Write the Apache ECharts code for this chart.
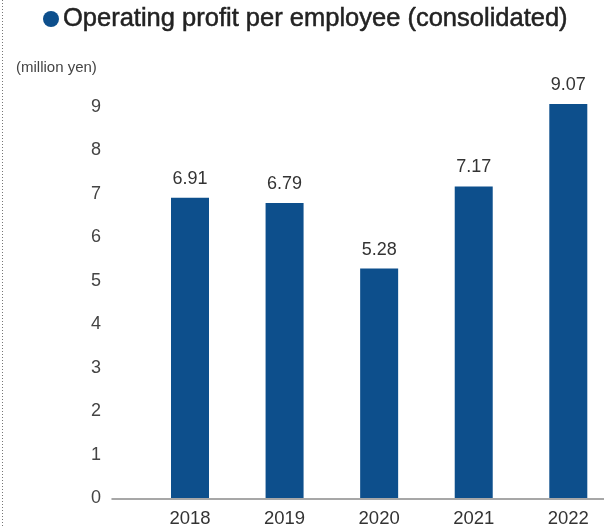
<!DOCTYPE html>
<html><head><meta charset="utf-8">
<script src="https://cdn.jsdelivr.net/npm/echarts@6/dist/echarts.min.js"></script>
<style>html,body{margin:0;padding:0;background:#fff}#c{width:604px;height:528px}</style>
</head><body><div id="c"></div>
<script>
const categories = ['2018', '2019', '2020', '2021', '2022'];
const profitPerEmployee = [6.91, 6.79, 5.28, 7.17, 9.07];
const yTicks = [0, 1, 2, 3, 4, 5, 6, 7, 8, 9];
const titleText = 'Operating profit per employee (consolidated)';
const unitText = '(million yen)';

const chart = echarts.init(document.getElementById('c'), null, {renderer: 'canvas'});
const font = '"Liberation Sans", Arial, sans-serif';
chart.setOption({
  animation: false,
  textStyle: {fontFamily: font},
  title: [{
    text: '{d|}{t|' + titleText + '}',
    left: 43, top: 4, padding: 0,
    textStyle: {
      rich: {
        d: {width: 16, height: 16, borderRadius: 8, backgroundColor: '#0d4f8c', verticalAlign: 'middle'},
        t: {fontSize: 25.5, lineHeight: 30, fontWeight: 'normal', color: '#222', fontFamily: font,
            padding: [0, 0, 0, 4], textBorderColor: '#222', textBorderWidth: 0.5, verticalAlign: 'middle'}
      }
    }
  }, {
    text: unitText, left: 16, top: 60, padding: 0,
    textStyle: {fontSize: 15, lineHeight: 16, fontWeight: 'normal', color: '#444', fontFamily: font}
  }],
  graphic: [{
    type: 'line', shape: {x1: 2.5, y1: 0, x2: 2.5, y2: 528},
    style: {stroke: '#777', lineWidth: 1, lineDash: [1, 2]}
  }],
  grid: [
    {left: 190, right: 35.7, top: 107, bottom: 29.5},
    {left: 112, right: 0, top: 498.5, height: 0}
  ],
  xAxis: [{
    type: 'category', data: categories, gridIndex: 0, boundaryGap: false,
    axisLine: {show: false}, axisTick: {show: false}, splitLine: {show: false},
    axisLabel: {fontSize: 18.5, color: '#333', margin: 11}
  }, {
    type: 'value', gridIndex: 1, min: 0, max: 1,
    axisLine: {show: true, lineStyle: {color: '#8a8a8a', width: 1.5}},
    axisTick: {show: false}, axisLabel: {show: false}, splitLine: {show: false}
  }],
  yAxis: [{
    type: 'value', gridIndex: 0, min: yTicks[0], max: yTicks[yTicks.length - 1], interval: 1,
    axisLine: {show: false}, axisTick: {show: false}, splitLine: {show: false},
    axisLabel: {fontSize: 18, color: '#444', margin: 89}
  }, {
    type: 'value', gridIndex: 1, show: false
  }],
  series: [{
    type: 'bar', data: profitPerEmployee, barWidth: 38, clip: false,
    itemStyle: {color: '#0d4f8c'},
    label: {show: true, position: 'top', distance: 10, fontSize: 18, color: '#333',
      formatter: p => p.value.toFixed(2)}
  }]
});
</script></body></html>
